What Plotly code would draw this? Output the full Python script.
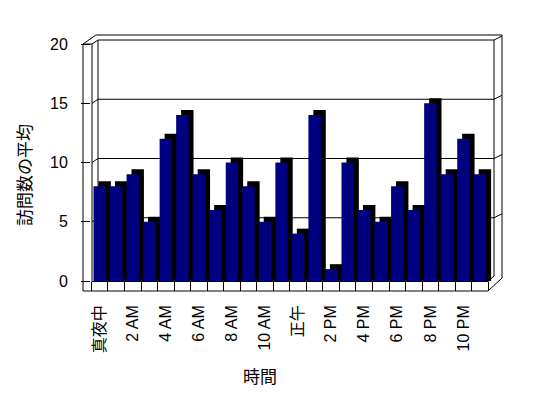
import plotly.graph_objects as go

# ---- data ----
hours = ["真夜中", "1 AM", "2 AM", "3 AM", "4 AM", "5 AM", "6 AM", "7 AM", "8 AM", "9 AM",
         "10 AM", "11 AM", "正午", "1 PM", "2 PM", "3 PM", "4 PM", "5 PM", "6 PM", "7 PM",
         "8 PM", "9 PM", "10 PM", "11 PM"]
visits = [8, 8, 9, 5, 12, 14, 9, 6, 10, 8, 5, 10, 4, 14, 1, 10, 6, 5, 8, 6, 15, 9, 12, 9]
y_ticks = [0, 5, 10, 15, 20]
x_title = "時間"
y_title = "訪問数の平均"

# page body has an 8px margin: figure origin sits at (8, 8) of the window
OX, OY = 8, 8
W, H = 548 - OX, 398 - OY
L, R, T, B = 91, 494, 44, 281  # plot area in window pixels
FONT = "Liberation Sans, Noto Sans CJK JP"
NAVY = "#000080"

def px(x):
    return (x - L) / (R - L)

def py(y):
    return (B - y) / (B - T)

# 3D depth of the bars (in axis units)
dx_units = 0.30
dy_units = 0.42
bar_w = 0.75

fig = go.Figure()
# shadow / depth side of each column
fig.add_trace(go.Bar(
    x=hours, y=[v + dy_units for v in visits],
    width=bar_w, offset=-bar_w / 2 + dx_units,
    marker=dict(color="black", line=dict(width=0)),
    hoverinfo="skip", showlegend=False,
))
# front face
fig.add_trace(go.Bar(
    x=hours, y=visits,
    width=bar_w, offset=-bar_w / 2,
    marker=dict(color=NAVY, line=dict(width=0)),
    showlegend=False,
))

shapes = []

def seg(x0, y0, x1, y1, layer="below"):
    shapes.append(dict(type="line", xref="paper", yref="paper",
                       x0=px(x0), y0=py(y0), x1=px(x1), y1=py(y1),
                       line=dict(color="black", width=1), layer=layer))

# back-wall gridlines (offset by wall depth) from tick values
unit = (B - T) / 20.0
for t in y_ticks[1:]:
    yf = B - t * unit
    yb = yf - 4
    seg(L + 1, yf, 98, yb)
    seg(98, yb, R, yb)
    seg(R, yb, 502, yb - 4)

# frame of the 3D box
seg(83, 44, 83, 291)
seg(92, 44, 92, 282)
seg(83, 44, 92, 44)
seg(83, 44, 96, 35)
seg(96, 35, 502, 35)
seg(98, 40, 98, 277)
seg(R, 40, R, 276)
seg(502, 35, 502, 278)
seg(83, 291, 488, 291)
seg(92, 281.5, 488, 281.5)
seg(488, 291, 502, 278)
seg(488, 281.5, R, 276)

fig.update_layout(
    width=W, height=H,
    margin=dict(l=L - OX, r=548 - R, t=T - OY, b=398 - B),
    paper_bgcolor="white", plot_bgcolor="rgba(0,0,0,0)",
    barmode="overlay",
    font=dict(family=FONT, size=16, color="black"),
    shapes=shapes,
    xaxis=dict(
        type="category", range=[-0.526, 23.85],
        tickmode="array", tickvals=hours,
        ticktext=[h if i % 2 == 0 else "" for i, h in enumerate(hours)],
        tickson="boundaries", ticks="outside", ticklen=9, tickcolor="black", tickwidth=1,
        tickangle=-90, ticklabelstandoff=20,
        showgrid=False, showline=False, zeroline=False,
        tickfont=dict(family=FONT, size=16),
    ),
    yaxis=dict(
        range=[0, 20], tickmode="array", tickvals=y_ticks,
        ticks="outside", ticklen=9, tickcolor="black", tickwidth=1,
        ticklabelstandoff=10,
        showgrid=False, showline=False, zeroline=False,
        tickfont=dict(family=FONT, size=16),
    ),
    annotations=[
        dict(text=x_title, xref="paper", yref="paper", x=px(260), y=py(377),
             xanchor="center", yanchor="middle", showarrow=False,
             font=dict(family=FONT, size=17)),
        dict(text=y_title, xref="paper", yref="paper", x=px(25), y=py(175),
             xanchor="center", yanchor="middle", showarrow=False, textangle=-90,
             font=dict(family=FONT, size=17)),
    ],
)

fig.write_html("out.html")
